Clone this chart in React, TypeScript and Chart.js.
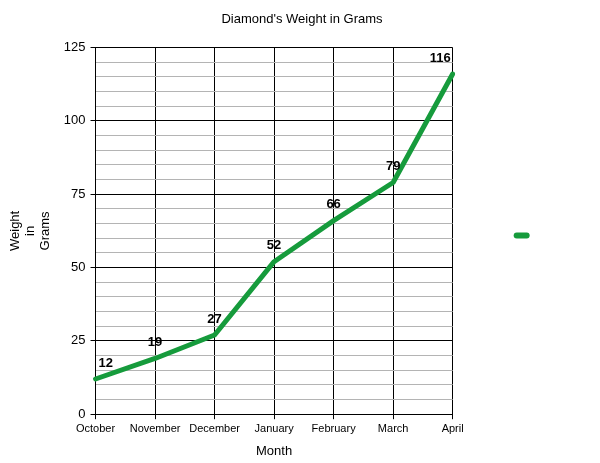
import { useEffect, useRef } from "react"
import { Chart, registerables } from "chart.js"

Chart.register(...registerables)

const months = ["October", "November", "December", "January", "February", "March", "April"]
const weights = [12, 19, 27, 52, 66, 79, 116]
const yTitle = ["Weight", "in", "Grams"]

const FONT = "'Liberation Sans', Arial, sans-serif"
const GREEN = "#169b3c"

// labels above each point, kept inside the plot area
const pointLabels = {
  id: "pointLabels",
  afterDatasetsDraw(chart: Chart) {
    const ctx = chart.ctx
    const area = chart.chartArea
    const meta = chart.getDatasetMeta(0)
    ctx.save()
    ctx.font = "bold 13px " + FONT
    ctx.fillStyle = "#000"
    ctx.textAlign = "center"
    ctx.textBaseline = "middle"
    meta.data.forEach((pt, i) => {
      const text = String(weights[i])
      const w = ctx.measureText(text).width
      let x = pt.x
      x = Math.max(area.left + w / 2 + 3, Math.min(area.right - w / 2 - 2, x))
      ctx.fillText(text, x, pt.y - 16)
    })
    ctx.restore()
  },
}

export default function App() {
  const chartRef = useRef<HTMLCanvasElement>(null)
  const chartInstance = useRef<Chart | null>(null)

  useEffect(() => {
    if (!chartRef.current) return
    if (chartInstance.current) chartInstance.current.destroy()

    chartInstance.current = new Chart(chartRef.current, {
      type: "line",
      data: {
        labels: months,
        datasets: [
          {
            label: "",
            data: weights,
            borderColor: GREEN,
            backgroundColor: GREEN,
            borderWidth: 5,
            borderCapStyle: "round",
            borderJoinStyle: "round",
            pointRadius: 0,
            tension: 0,
          },
        ],
      },
      options: {
        responsive: true,
        maintainAspectRatio: false,
        animation: false,
        layout: { padding: { top: 0, left: 8, right: 4, bottom: 4 } },
        plugins: {
          title: {
            display: true,
            text: "Diamond's Weight in Grams",
            color: "#000",
            font: { family: FONT, size: 13, weight: "normal" },
            padding: { top: 12, bottom: 20 },
          },
          legend: {
            position: "right",
            title: { display: true, text: " ", font: { size: 10, lineHeight: 1.2 }, padding: 0 },
            labels: {
              usePointStyle: true,
              pointStyle: "line",
              pointStyleWidth: 10,
              padding: 64,
              font: { family: FONT, size: 12 },
              // the legend shows only the line marker; blank text keeps the plot narrow
              generateLabels: (chart) =>
                Chart.defaults.plugins.legend.labels.generateLabels(chart).map((l) => ({
                  ...l,
                  text: "                ",
                  fontColor: "rgba(0,0,0,0)",
                  lineCap: "round",
                  lineWidth: 6,
                  strokeStyle: GREEN,
                })),
            },
          },
          tooltip: { enabled: false },
        },
        scales: {
          x: {
            offset: false,
            grid: { color: "#000", lineWidth: 1, tickLength: 5 },
            border: { color: "#000" },
            ticks: { color: "#000", font: { family: FONT, size: 11 }, maxRotation: 0, padding: 3 },
            title: {
              display: true,
              text: "Month",
              color: "#000",
              font: { family: FONT, size: 13 },
              padding: { top: 5, bottom: 0 },
            },
          },
          y: {
            min: 0,
            max: 125,
            grid: {
              color: (c) => (c.tick && c.tick.value % 25 === 0 ? "#000" : "#b4b4b4"),
              tickColor: (c) => (c.tick && c.tick.value % 25 === 0 ? "#000" : "rgba(0,0,0,0)"),
              lineWidth: 1,
              tickLength: 5,
            },
            border: { color: "#000" },
            ticks: {
              stepSize: 5,
              autoSkip: false,
              color: "#000",
              font: { family: FONT, size: 13 },
              padding: 5,
              callback: (v) => (Number(v) % 25 === 0 ? String(v) : ""),
            },
            title: {
              display: true,
              text: yTitle,
              color: "#000",
              font: { family: FONT, size: 13, lineHeight: 1.15 },
              padding: { top: 0, bottom: 6 },
            },
          },
        },
      },
      plugins: [pointLabels],
    })

    return () => {
      if (chartInstance.current) {
        chartInstance.current.destroy()
        chartInstance.current = null
      }
    }
  }, [])

  return (
    <div style={{ position: "absolute", left: 0, top: 0, width: 600, height: 463, background: "#fff" }}>
      <canvas ref={chartRef} />
    </div>
  )
}
